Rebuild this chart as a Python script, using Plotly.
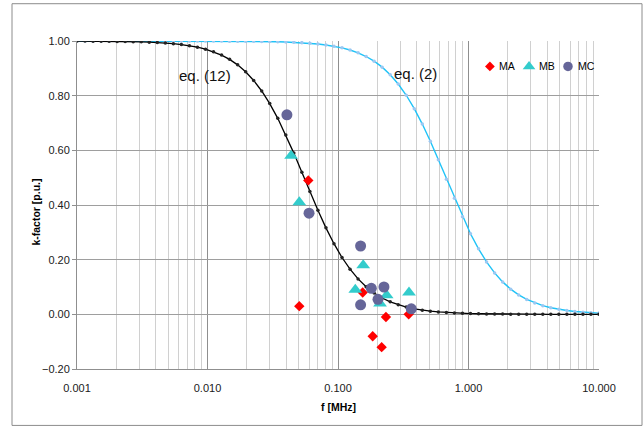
import plotly.graph_objects as go

# Frequency grid [MHz] of the two analytic curves
freq = [0.001, 0.001152, 0.001328, 0.00153, 0.001763, 0.002031, 0.00234, 0.002696, 0.003107, 0.00358,
        0.004125, 0.004752, 0.005476, 0.006309, 0.00727, 0.008376, 0.009651, 0.01112, 0.01281, 0.01476,
        0.01701, 0.0196, 0.02258, 0.02602, 0.02998, 0.03455, 0.03981, 0.04587, 0.05285, 0.0609,
        0.07017, 0.08085, 0.09316, 0.1073, 0.1237, 0.1425, 0.1642, 0.1892, 0.218, 0.2512,
        0.2894, 0.3335, 0.3842, 0.4427, 0.5101, 0.5878, 0.6772, 0.7803, 0.8991, 1.036,
        1.194, 1.375, 1.585, 1.826, 2.104, 2.424, 2.793, 3.219, 3.709, 4.273,
        4.923, 5.673, 6.537, 7.531, 8.678, 10.0]

# k-factor from eq. (12)
k_eq12 = [0.9997, 0.9996, 0.9994, 0.9992, 0.999, 0.9986, 0.9982, 0.9976, 0.9968, 0.9958,
          0.9944, 0.9926, 0.9902, 0.987, 0.9828, 0.9773, 0.9701, 0.9607, 0.9485, 0.9328,
          0.9127, 0.8873, 0.8557, 0.8171, 0.7709, 0.7171, 0.6562, 0.5898, 0.5199, 0.4492,
          0.3806, 0.3164, 0.2585, 0.2079, 0.1651, 0.1296, 0.1009, 0.0779, 0.0598, 0.0458,
          0.0349, 0.0265, 0.0201, 0.0152, 0.0115, 0.0087, 0.0066, 0.0049, 0.0037, 0.0028,
          0.0021, 0.0016, 0.0012, 0.0009, 0.0007, 0.0005, 0.0004, 0.0003, 0.0002, 0.0002,
          0.0001, 0.0001, 0.0001, 0.0001, 0.0, 0.0]

# k-factor from eq. (2)
k_eq2 = [1.0, 1.0, 1.0, 1.0, 1.0, 1.0, 1.0, 1.0, 1.0, 1.0,
         1.0, 0.9999, 0.9999, 0.9999, 0.9999, 0.9998, 0.9998, 0.9997, 0.9996, 0.9995,
         0.9994, 0.9991, 0.9989, 0.9985, 0.998, 0.9973, 0.9965, 0.9953, 0.9938, 0.9918,
         0.9892, 0.9856, 0.981, 0.975, 0.967, 0.9567, 0.9433, 0.9261, 0.9043, 0.8768,
         0.8427, 0.8015, 0.7525, 0.6961, 0.633, 0.5651, 0.4946, 0.4244, 0.357, 0.2949,
         0.2396, 0.1918, 0.1516, 0.1187, 0.0921, 0.071, 0.0544, 0.0415, 0.0316, 0.024,
         0.0182, 0.0138, 0.0104, 0.0079, 0.0059, 0.0045]

# Measured k-factors
ma_f = [0.0592, 0.0505, 0.1546, 0.1845, 0.216, 0.233, 0.348]
ma_k = [0.49, 0.03, 0.08, -0.08, -0.12, -0.01, 0.00]
mb_f = [0.0437, 0.0505, 0.1357, 0.156, 0.21, 0.236, 0.35]
mb_k = [0.58, 0.41, 0.09, 0.18, 0.04, 0.07, 0.08]
mc_f = [0.0406, 0.060, 0.149, 0.149, 0.18, 0.2025, 0.225, 0.3645]
mc_k = [0.73, 0.37, 0.25, 0.035, 0.095, 0.055, 0.10, 0.02]

x_ticks = [0.001, 0.01, 0.1, 1, 10]
x_ticktext = ["0.001", "0.010", "0.100", "1.000", "10.000"]
x_minor = [m * d for d in [0.001, 0.01, 0.1, 1] for m in range(2, 10)]
y_ticks = [-0.2, 0.0, 0.2, 0.4, 0.6, 0.8, 1.0]

FONT = "Liberation Sans, Arial, sans-serif"
COL_MA = "#FF0000"
COL_MB = "#33CCCC"
COL_MC = "#666699"

fig = go.Figure()

fig.add_trace(go.Scatter(x=freq, y=k_eq2, mode="lines+markers", name="eq. (2)",
                         line=dict(color="#1FC3F7", width=1.4),
                         marker=dict(color="#9CC8F2", size=3.5, line=dict(width=0)),
                         showlegend=False))
fig.add_trace(go.Scatter(x=freq, y=k_eq12, mode="lines+markers", name="eq. (12)",
                         line=dict(color="#000000", width=1.3),
                         marker=dict(color="#222222", size=3.5, line=dict(width=0)),
                         showlegend=False))

fig.add_trace(go.Scatter(x=ma_f, y=ma_k, mode="markers", name="MA",
                         marker=dict(symbol="diamond", color=COL_MA, size=8, line=dict(width=0)),
                         showlegend=False))
fig.add_trace(go.Scatter(x=mb_f, y=mb_k, mode="markers", name="MB",
                         marker=dict(symbol="triangle-up", color=COL_MB, size=12, line=dict(width=0)),
                         showlegend=False))
fig.add_trace(go.Scatter(x=mc_f, y=mc_k, mode="markers", name="MC",
                         marker=dict(symbol="circle", color=COL_MC, size=11, line=dict(width=0)),
                         showlegend=False))

# Compact legend drawn on an overlay axis in plot-fraction units
legend_names = ["MA", "MB", "MC"]
legend_symbols = ["diamond", "triangle-up", "circle"]
legend_colors = [COL_MA, COL_MB, COL_MC]
legend_sizes = [7.5, 11, 9.5]
legend_key_x = [0.791, 0.866, 0.9406]
legend_y = 0.9226
for name, sym, col, sz, kx in zip(legend_names, legend_symbols, legend_colors, legend_sizes, legend_key_x):
    fig.add_trace(go.Scatter(x=[kx], y=[legend_y], xaxis="x2", yaxis="y2", mode="markers",
                             marker=dict(symbol=sym, color=col, size=sz, line=dict(width=0)),
                             showlegend=False, hoverinfo="skip"))
    fig.add_annotation(x=kx + 0.0145, y=legend_y, xref="x2", yref="y2", text=name,
                       showarrow=False, xanchor="left", yanchor="middle",
                       font=dict(family=FONT, size=10.5, color="#000000"))

# Curve labels
fig.add_annotation(x=-2.02, y=0.873, xref="x", yref="y", text="eq. (12)", showarrow=False,
                   font=dict(family=FONT, size=15, color="#111111"))
fig.add_annotation(x=-0.41, y=0.882, xref="x", yref="y", text="eq. (2)", showarrow=False,
                   font=dict(family=FONT, size=15, color="#111111"))

# Axis titles
fig.add_annotation(x=-0.0785, y=0.477, xref="paper", yref="paper", text="<b>k-factor [p.u.]</b>",
                   textangle=-90, showarrow=False, xanchor="center", yanchor="middle",
                   font=dict(family=FONT, size=10.5, color="#000000"))
fig.add_annotation(x=0.501, y=-0.117, xref="paper", yref="paper", text="<b>f [MHz]</b>",
                   showarrow=False, xanchor="center", yanchor="middle",
                   font=dict(family=FONT, size=10.5, color="#000000"))

# Outer chart frame
fig.add_shape(type="rect", xref="paper", yref="paper", x0=-0.1245, x1=1.0824, y0=-0.172, y1=1.1137,
              line=dict(color="#8C8C8C", width=1), fillcolor="rgba(0,0,0,0)", layer="below")

fig.update_layout(
    width=644, height=427,
    margin=dict(l=77, r=45, t=41, b=58),
    paper_bgcolor="white", plot_bgcolor="white",
    font=dict(family=FONT, size=11, color="#404040"),
    showlegend=False,
    xaxis=dict(type="log", range=[-3, 1], tickmode="array", tickvals=x_ticks, ticktext=x_ticktext,
               showgrid=True, gridcolor="#8F8F8F", gridwidth=1,
               minor=dict(tickmode="array", tickvals=x_minor, showgrid=True,
                          gridcolor="#D0D0D0", gridwidth=1, ticks=""),
               showline=True, linecolor="#8F8F8F", linewidth=1, mirror=False,
               ticks="", ticklabelstandoff=9, zeroline=False,
               tickfont=dict(family=FONT, size=11, color="#202020")),
    yaxis=dict(range=[-0.2, 1.0], tickmode="array", tickvals=y_ticks, tickformat=".2f",
               showgrid=True, gridcolor="#9E9E9E", gridwidth=1,
               showline=True, linecolor="#8F8F8F", linewidth=1,
               ticks="outside", ticklen=4, tickcolor="#8F8F8F", zeroline=False,
               tickfont=dict(family=FONT, size=11, color="#202020")),
    xaxis2=dict(overlaying="x", range=[0, 1], visible=False, fixedrange=True),
    yaxis2=dict(overlaying="y", range=[0, 1], visible=False, fixedrange=True),
)

fig.write_html("out.html")
